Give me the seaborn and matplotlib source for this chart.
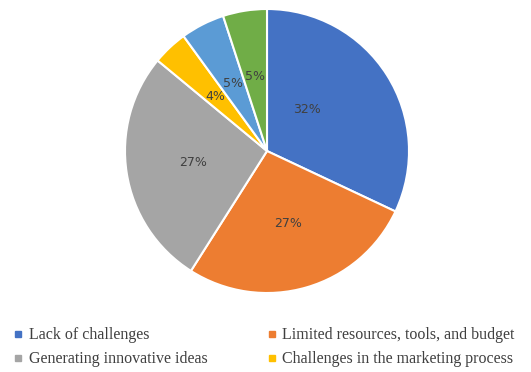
import matplotlib
matplotlib.use("Agg")
import matplotlib.pyplot as plt
import seaborn as sns
from matplotlib.lines import Line2D

categories = ["Lack of challenges", "Limited resources, tools, and budget",
              "Generating innovative ideas", "Challenges in the marketing process",
              "Other difficulties", "Time constraints"]
values = [32, 27, 27, 4, 5, 5]
colors = ["#4472C4", "#ED7D31", "#A5A5A5", "#FFC000", "#5B9BD5", "#70AD47"]

sns.set_theme(style="white")
palette = sns.color_palette(colors)

fig = plt.figure(figsize=(5.31, 3.72), dpi=100)
ax = fig.add_axes([125 / 531, 79 / 372, 284 / 531, 284 / 372])
wedges, texts, autotexts = ax.pie(
    values, colors=palette, startangle=90, counterclock=False,
    autopct=lambda p: f"{p:.0f}%", pctdistance=0.53,
    wedgeprops=dict(edgecolor="white", linewidth=1.5),
    textprops=dict(color="#404040", fontsize=9, family="DejaVu Sans"))
autotexts[0].set_position((0.28, 0.29))
ax.set_xlim(-1, 1)
ax.set_ylim(-1, 1)
ax.set_aspect("equal")

order = [0, 2, 1, 3]
handles = [Line2D([0], [0], marker="s", linestyle="none", markersize=4.5,
                  markerfacecolor=colors[i], markeredgecolor=colors[i]) for i in order]
labels = [categories[i] for i in order]
fig.legend(handles, labels, ncol=2, loc="upper left",
           bbox_to_anchor=(-1 / 531, 1 - 313 / 372), frameon=False,
           prop=dict(family="Liberation Serif", size=11.5),
           handlelength=0.6, handletextpad=0.35, columnspacing=3.75,
           labelspacing=0.5, labelcolor="#404040")

fig.savefig("out.png", dpi=100)
